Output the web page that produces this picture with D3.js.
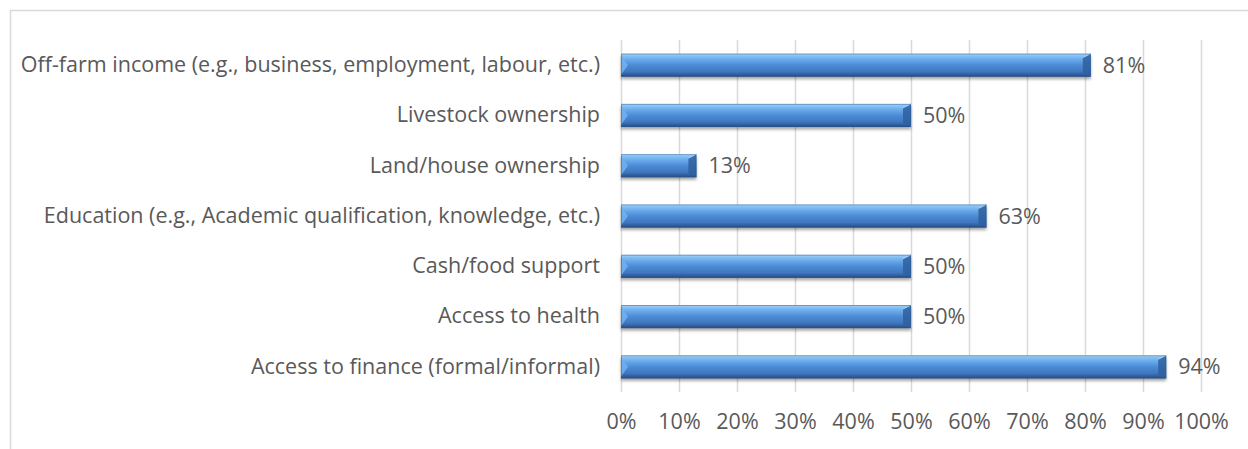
<!DOCTYPE html>
<html>
<head>
<meta charset="utf-8">
<script src="https://cdn.jsdelivr.net/npm/d3@7"></script>
<style>
  html, body { margin: 0; padding: 0; background: #ffffff; }
  svg { display: block; }
  text { font-family: "Open Sans", Lato, sans-serif; fill: #595959; }
</style>
</head>
<body>
<svg id="chart" width="1248" height="449"></svg>
<script>
// Categories, top to bottom
const categories = [
  "Off-farm income (e.g., business, employment, labour, etc.)",
  "Livestock ownership",
  "Land/house ownership",
  "Education (e.g., Academic qualification, knowledge, etc.)",
  "Cash/food support",
  "Access to health",
  "Access to finance (formal/informal)"
];
// Share of respondents (%)
const values = [81, 50, 13, 63, 50, 50, 94];
// X-axis ticks (%)
const tickValues = [0, 10, 20, 30, 40, 50, 60, 70, 80, 90, 100];

const svg = d3.select("#chart");
const W = 1248, H = 449;
const plot = { left: 621, right: 1201, top: 40, bottom: 392 };
const fontSize = 21.5;
const fontFamily = "'Open Sans', Lato, sans-serif";

// Chart area frame
svg.append("rect")
  .attr("x", 10.5).attr("y", 10.5)
  .attr("width", W + 40).attr("height", H + 40)
  .attr("fill", "#ffffff").attr("stroke", "#d9d9d9").attr("stroke-width", 1.5);

const x = d3.scaleLinear().domain([0, 100]).range([plot.left, plot.right]);
const y = d3.scaleBand().domain(categories).range([plot.top, plot.bottom])
  .paddingInner(0.54).paddingOuter(0.27);

const defs = svg.append("defs");
// Bevelled bar face
const grad = defs.append("linearGradient").attr("id", "barFace")
  .attr("x1", 0).attr("y1", 0).attr("x2", 0).attr("y2", 1);
[[0, "#b3dafc"], [0.1, "#86c1f4"], [0.28, "#66a7ea"], [0.5, "#4d8bd5"],
 [0.78, "#3f77c0"], [0.9, "#30609f"], [1, "#24487a"]]
  .forEach(([o, c]) => grad.append("stop").attr("offset", o).attr("stop-color", c));
const shadow = defs.append("filter").attr("id", "barShadow")
  .attr("x", "-5%").attr("y", "-50%").attr("width", "110%").attr("height", "220%");
shadow.append("feGaussianBlur").attr("stdDeviation", 1.6);

// Vertical gridlines
svg.append("g").selectAll("line").data(tickValues).join("line")
  .attr("x1", d => Math.round(x(d)) + 0.5).attr("x2", d => Math.round(x(d)) + 0.5)
  .attr("y1", plot.top).attr("y2", plot.bottom)
  .attr("stroke", "#d9d9d9").attr("stroke-width", 1.5);

// X axis labels
const xAxis = d3.axisBottom(x).tickValues(tickValues).tickFormat(d => d + "%").tickSize(0).tickPadding(0);
const gx = svg.append("g").attr("transform", `translate(0, ${plot.bottom + 22})`).call(xAxis);
gx.select(".domain").remove();
gx.selectAll("text").attr("font-size", fontSize).attr("dy", "0.71em")
  .style("font-family", fontFamily).attr("fill", "#595959");

// Category labels
const yAxis = d3.axisLeft(y).tickSize(0).tickPadding(21);
const gy = svg.append("g").attr("transform", `translate(${plot.left}, 0)`).call(yAxis);
gy.select(".domain").remove();
gy.selectAll("text").attr("font-size", fontSize)
  .style("font-family", fontFamily).attr("fill", "#595959");

// Bars
const rows = categories.map((c, i) => ({ c, v: values[i] }));
const bars = svg.append("g").selectAll("g").data(rows).join("g");
bars.append("rect")
  .attr("x", x(0)).attr("y", d => y(d.c) + 2.5)
  .attr("width", d => x(d.v) - x(0)).attr("height", y.bandwidth())
  .attr("fill", "#000").attr("opacity", 0.35).attr("filter", "url(#barShadow)");
bars.append("rect")
  .attr("x", x(0)).attr("y", d => y(d.c))
  .attr("width", d => x(d.v) - x(0)).attr("height", y.bandwidth())
  .attr("fill", "url(#barFace)");
// Left bevel end
bars.append("path")
  .attr("d", d => {
    const x0 = x(0), y0 = y(d.c), y1 = y0 + y.bandwidth(), cy = (y0 + y1) / 2;
    return `M${x0},${y0 + 2}L${x0 + 7},${cy}L${x0},${y1 - 2}Z`;
  })
  .attr("fill", "#6fb0f0").attr("opacity", 0.9);
// Right bevel end
bars.append("path")
  .attr("d", d => {
    const x1 = x(d.v), y0 = y(d.c), y1 = y0 + y.bandwidth();
    return `M${x1},${y0}L${x1 - 8},${y0 + 4}L${x1 - 8},${y1 - 4}L${x1},${y1}Z`;
  })
  .attr("fill", "#2f5f9e").attr("opacity", 0.85);
bars.append("path")
  .attr("d", d => {
    const x1 = x(d.v), y0 = y(d.c);
    return `M${x1 - 8},${y0 + 4}L${x1},${y0}`;
  })
  .attr("stroke", "#a8d3fb").attr("stroke-width", 1);
// Bar outline
bars.append("rect")
  .attr("x", x(0) + 0.5).attr("y", d => y(d.c) + 0.5)
  .attr("width", d => x(d.v) - x(0) - 1).attr("height", y.bandwidth() - 1)
  .attr("fill", "none").attr("stroke", "#2b5a96").attr("stroke-opacity", 0.5);

// Value labels
bars.append("text")
  .attr("x", d => x(d.v) + 12).attr("y", d => y(d.c) + y.bandwidth() / 2)
  .attr("dy", "0.35em").attr("font-size", fontSize)
  .text(d => d.v + "%");
</script>
</body>
</html>
